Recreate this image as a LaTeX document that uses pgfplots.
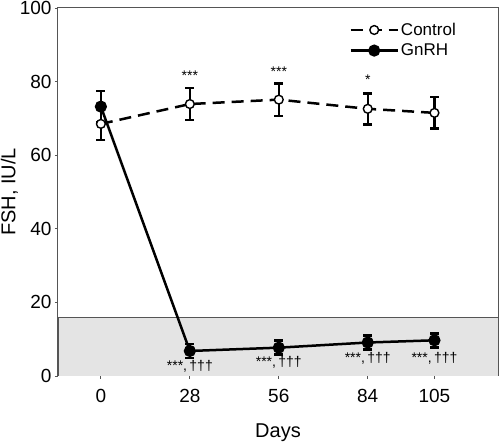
\documentclass[border=0pt]{standalone}
\usepackage{pgfplots}
\pgfplotsset{compat=1.18}
\usepackage{fontspec}
\setmainfont{Liberation Sans}
\definecolor{axgray}{HTML}{555555}
\definecolor{bandgray}{HTML}{E4E4E4}
\begin{document}
\begin{tikzpicture}
\begin{axis}[
  scale only axis, width=440pt, height=368pt,
  xmin=-13.5, xmax=125, ymin=0, ymax=100,
  xtick={0,28,56,84,105}, ytick={0,20,40,60,80,100},
  tick align=outside, major tick length=3pt,
  axis line style={axgray, line width=1pt},
  tick style={axgray, line width=0.8pt},
  xtick pos=bottom, ytick pos=left,
  /pgf/number format/assume math mode=true,
  tick label style={font=\fontsize{19}{21}\selectfont, text=black},
  xticklabel style={yshift=-7pt},
  xlabel={Days}, ylabel={FSH, IU/L},
  label style={font=\fontsize{20}{22}\selectfont},
  xlabel style={yshift=-14pt},
  ylabel style={yshift=-5pt},
  legend style={at={(0.662,0.965)}, anchor=north west, draw=none, fill=none,
    font=\fontsize{17}{19}\selectfont, row sep=3pt, inner sep=0pt},
  legend cell align=left,
  legend image code/.code={
    \draw[#1] (0pt,0pt) -- (47pt,0pt);
    \draw[#1, only marks] plot coordinates {(23.5pt,0pt)};
  },
  /tikz/every even column/.append style={column sep=10pt},
]
\addplot[fill=bandgray, draw=axgray, line width=0.8pt, forget plot]
  coordinates {(-13.5,0) (-13.5,16) (125,16) (125,0)} -- cycle;

\addplot[black, line width=2.5pt, dash pattern=on 12pt off 7pt,
  mark=*, mark options={solid, fill=white, draw=black, line width=1.4pt}, mark size=4.4pt,
  error bars/.cd, y dir=both, y explicit,
  error bar style={line width=2.5pt, solid},
  error mark options={rotate=90, mark size=4.4pt, line width=2.5pt, solid}]
  coordinates {
  (0,68.5) +- (0,4.4)
  (28,73.9) +- (0,4.3)
  (56,75.1) +- (0,4.4)
  (84,72.6) +- (0,4.2)
  (105,71.5) +- (0,4.3)
  };
\addlegendentry{Control}

\addplot[black, line width=2.5pt,
  mark=*, mark options={solid, fill=black, draw=black}, mark size=4.8pt,
  error bars/.cd, y dir=both, y explicit,
  error bar style={line width=2.5pt},
  error mark options={rotate=90, mark size=4.4pt, line width=2.5pt}]
  coordinates {
  (0,73.2) +- (0,4.2)
  (28,6.8) +- (0,1.9)
  (56,7.7) +- (0,1.9)
  (84,9.1) +- (0,1.9)
  (105,9.7) +- (0,1.9)
  };
\addlegendentry{GnRH}

\begin{scope}[every node/.style={font=\fontsize{14}{15}\selectfont, inner sep=0pt}]
\node at (axis cs:28,81.5) {***};
\node at (axis cs:56,82.6) {***};
\node at (axis cs:84,80.4) {*};
\node[anchor=base] at (axis cs:28,1.4) {***,\,†††};
\node[anchor=base] at (axis cs:56,2.5) {***,\,†††};
\node[anchor=base] at (axis cs:84,3.6) {***,\,†††};
\node[anchor=base] at (axis cs:105,3.6) {***,\,†††};
\end{scope}
\end{axis}
\pgfresetboundingbox
\path ([xshift=-58pt,yshift=-67pt]current axis.south west) rectangle ([xshift=2pt,yshift=8pt]current axis.north east);
\end{tikzpicture}
\end{document}
